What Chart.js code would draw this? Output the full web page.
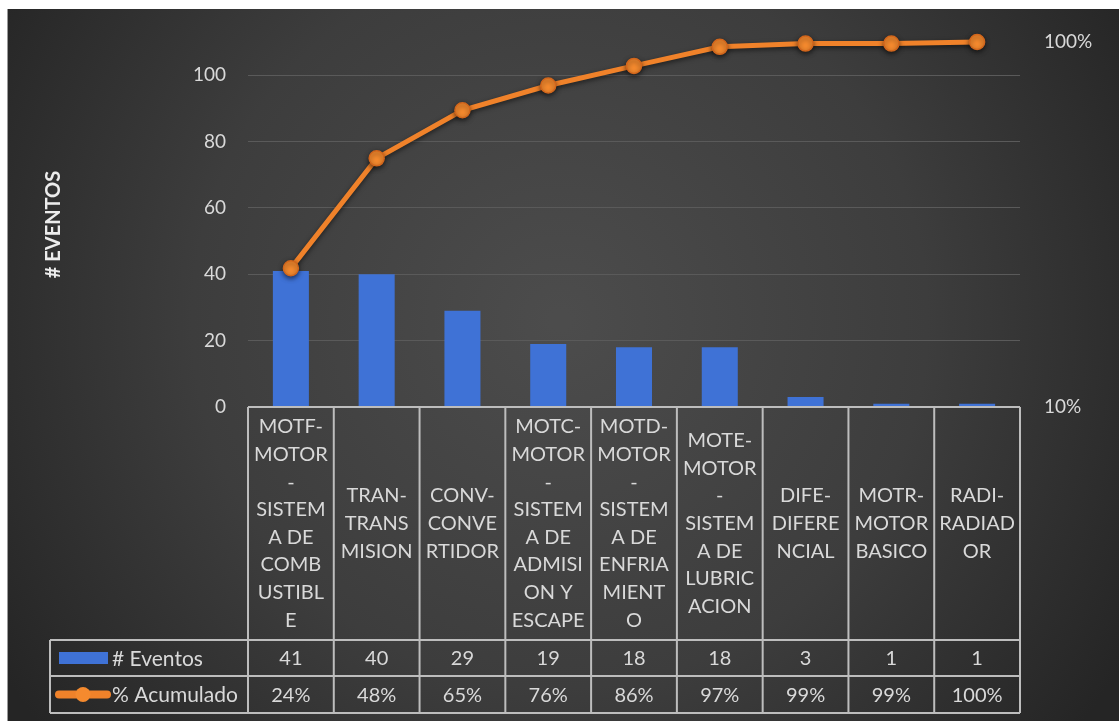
<!DOCTYPE html>
<html>
<head>
<meta charset="utf-8">
<title>Pareto eventos</title>
<script src="https://cdn.jsdelivr.net/npm/chart.js@4.4.1/dist/chart.umd.min.js"></script>
<style>
  html, body { margin: 0; padding: 0; background: #ffffff; }
  #wrap { position: relative; width: 1119px; height: 721px; }
</style>
</head>
<body>
<div id="wrap"><canvas id="paretoChart"></canvas></div>
<script>
// category names, already wrapped the way the table cells show them
var categories = [
  ["MOTF-", "MOTOR", "-", "SISTEM", "A DE", "COMB", "USTIBL", "E"],
  ["TRAN-", "TRANS", "MISION"],
  ["CONV-", "CONVE", "RTIDOR"],
  ["MOTC-", "MOTOR", "-", "SISTEM", "A DE", "ADMISI", "ON Y", "ESCAPE"],
  ["MOTD-", "MOTOR", "-", "SISTEM", "A DE", "ENFRIA", "MIENT", "O"],
  ["MOTE-", "MOTOR", "-", "SISTEM", "A DE", "LUBRIC", "ACION"],
  ["DIFE-", "DIFERE", "NCIAL"],
  ["MOTR-", "MOTOR", "BASICO"],
  ["RADI-", "RADIAD", "OR"]
];
var eventos = [41, 40, 29, 19, 18, 18, 3, 1, 1];
var acumulado = [24, 48, 65, 76, 86, 97, 99, 99, 100];
var leftTicks = [0, 20, 40, 60, 80, 100];
var rightTicks = [10, 100];

(function () {
  var textColor = "#d9d9d9";
  var gridColor = "#5a5a5a";
  var tableColor = "#bdbdbd";
  var fontFamily = "Lato, 'Open Sans', sans-serif";

  var background = {
    id: "background",
    beforeDraw: function (chart) {
      var ctx = chart.ctx;
      var w = chart.width;
      var h = chart.height;
      ctx.save();
      ctx.fillStyle = "#ffffff";
      ctx.fillRect(0, 0, w, h);
      var g = ctx.createRadialGradient(560, 320, 10, 560, 320, 660);
      g.addColorStop(0, "#4c4c4c");
      g.addColorStop(0.55, "#3d3d3d");
      g.addColorStop(1, "#252525");
      ctx.fillStyle = g;
      ctx.fillRect(7, 9, w - 7, h - 9);
      ctx.fillStyle = "#9a9a9a";
      ctx.fillRect(7, 9, 1, h - 9);
      ctx.restore();
    }
  };

  var lineShadow = {
    id: "lineShadow",
    beforeDatasetDraw: function (chart, args) {
      if (args.meta.type !== "line") { return; }
      var ctx = chart.ctx;
      ctx.save();
      ctx.shadowColor = "rgba(0,0,0,0.55)";
      ctx.shadowBlur = 5;
      ctx.shadowOffsetY = 2;
    },
    afterDatasetDraw: function (chart, args) {
      if (args.meta.type !== "line") { return; }
      chart.ctx.restore();
    }
  };

  // data table under the plot, columns follow the x scale
  var dataTable = {
    id: "dataTable",
    afterDraw: function (chart) {
      var ctx = chart.ctx;
      var area = chart.chartArea;
      var x = chart.scales.x;
      var n = categories.length;
      var colW = (area.right - area.left) / n;
      var top = area.bottom;
      var headBottom = top + 233;
      var row1 = headBottom + 36;
      var row2 = row1 + 37;
      var legLeft = 50;
      var i, j;

      ctx.save();
      ctx.strokeStyle = tableColor;
      ctx.lineWidth = 2;
      ctx.beginPath();
      ctx.moveTo(area.left, top);
      ctx.lineTo(area.right, top);
      ctx.moveTo(legLeft, headBottom);
      ctx.lineTo(area.right, headBottom);
      ctx.moveTo(legLeft, row1);
      ctx.lineTo(area.right, row1);
      ctx.moveTo(legLeft, row2);
      ctx.lineTo(area.right, row2);
      ctx.moveTo(legLeft, headBottom);
      ctx.lineTo(legLeft, row2);
      for (i = 0; i <= n; i++) {
        var bx = area.left + i * colW;
        ctx.moveTo(bx, top);
        ctx.lineTo(bx, row2);
      }
      ctx.stroke();

      ctx.fillStyle = textColor;
      ctx.font = "20px " + fontFamily;
      ctx.textAlign = "center";
      ctx.textBaseline = "middle";
      var lh = 27.6;
      var midHead = (top + headBottom) / 2;
      for (i = 0; i < n; i++) {
        var cx = x.getPixelForValue(i);
        var lines = categories[i];
        var y0 = midHead - (lines.length - 1) * lh / 2;
        for (j = 0; j < lines.length; j++) {
          ctx.fillText(lines[j], cx, y0 + j * lh);
        }
        ctx.fillText(String(eventos[i]), cx, (headBottom + row1) / 2 + 1);
        ctx.fillText(acumulado[i] + "%", cx, (row1 + row2) / 2 + 1);
      }

      // legend keys
      var r1 = (headBottom + row1) / 2;
      var r2 = (row1 + row2) / 2;
      ctx.fillStyle = "#3f72d6";
      ctx.fillRect(59, r1 - 6, 49, 12);
      ctx.strokeStyle = "#f0822a";
      ctx.lineWidth = 8;
      ctx.lineCap = "round";
      ctx.beginPath();
      ctx.moveTo(59, r2);
      ctx.lineTo(107, r2);
      ctx.stroke();
      ctx.fillStyle = "#f58a2e";
      ctx.beginPath();
      ctx.arc(83, r2, 7.5, 0, Math.PI * 2);
      ctx.fill();

      ctx.fillStyle = textColor;
      ctx.textAlign = "left";
      ctx.font = "21px " + fontFamily;
      ctx.fillText("# Eventos", 112, r1 + 1);
      ctx.fillText("% Acumulado", 112, r2 + 1);
      ctx.restore();
    }
  };

  var canvas = document.getElementById("paretoChart");
  new Chart(canvas, {
    data: {
      labels: categories.map(function (c) { return c.join(" "); }),
      datasets: [{
        type: "line",
        label: "% Acumulado",
        data: acumulado,
        yAxisID: "y1",
        borderColor: "#f0822a",
        borderWidth: 5,
        pointRadius: 7.5,
        pointBackgroundColor: "#f58a2e",
        pointBorderColor: "#d2661c",
        pointBorderWidth: 1.5,
        tension: 0,
        clip: false,
        order: 0
      }, {
        type: "bar",
        label: "# Eventos",
        data: eventos,
        yAxisID: "y",
        backgroundColor: "#3f72d6",
        categoryPercentage: 1,
        barPercentage: 0.42,
        order: 1
      }]
    },
    options: {
      responsive: true,
      maintainAspectRatio: false,
      animation: false,
      layout: { padding: { left: 0, right: 0, top: 42, bottom: 314 } },
      plugins: {
        legend: { display: false },
        tooltip: { enabled: false }
      },
      scales: {
        x: {
          type: "category",
          offset: true,
          display: false
        },
        y: {
          position: "left",
          min: 0,
          max: 110,
          afterBuildTicks: function (scale) {
            scale.ticks = leftTicks.map(function (v) { return { value: v }; });
          },
          afterFit: function (scale) { scale.width = 248; },
          ticks: {
            color: textColor,
            padding: 22,
            font: { family: fontFamily, size: 19 }
          },
          grid: { color: gridColor, lineWidth: 1, drawTicks: false },
          border: { display: false },
          title: {
            display: true,
            text: "# EVENTOS",
            color: "#ececec",
            padding: { top: 42, bottom: 0 },
            font: { family: fontFamily, size: 20, weight: "bold" }
          }
        },
        y1: {
          type: "logarithmic",
          position: "right",
          min: 10,
          max: 100,
          afterBuildTicks: function (scale) {
            scale.ticks = rightTicks.map(function (v) { return { value: v }; });
          },
          afterFit: function (scale) { scale.width = 99; },
          ticks: {
            color: textColor,
            padding: 24,
            crossAlign: "near",
            font: { family: fontFamily, size: 19 },
            callback: function (v) { return v + "%"; }
          },
          grid: { display: false, drawTicks: false },
          border: { display: false }
        }
      }
    },
    plugins: [background, lineShadow, dataTable]
  });
})();
</script>
</body>
</html>
